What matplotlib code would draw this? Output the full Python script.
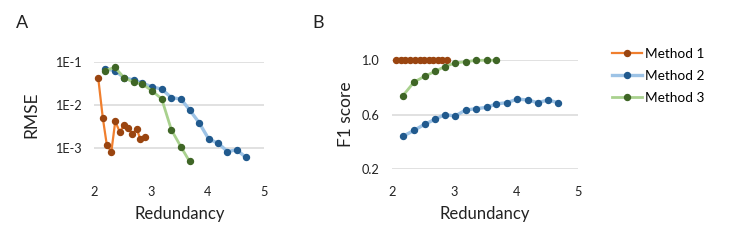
import matplotlib
matplotlib.use("Agg")
import matplotlib.pyplot as plt
from matplotlib.lines import Line2D

plt.rcParams['font.family'] = ['Lato', 'DejaVu Sans']

# ---- data ----
red_m1 = [2.07, 2.15, 2.22, 2.30, 2.37, 2.45, 2.52, 2.60, 2.67, 2.75, 2.81, 2.89]
red_m2 = [2.18, 2.36, 2.53, 2.70, 2.85, 3.02, 3.19, 3.36, 3.53, 3.68,
          3.85, 4.02, 4.19, 4.35, 4.51, 4.68]
red_m3 = [2.18, 2.36, 2.53, 2.70, 2.85, 3.02, 3.19, 3.36, 3.53, 3.68]

rmse_m1 = [0.041, 0.0049, 0.00118, 0.00079, 0.0041, 0.0023, 0.0033, 0.0029,
           0.0021, 0.0027, 0.0016, 0.0018]
rmse_m2 = [0.069, 0.062, 0.042, 0.0375, 0.0315, 0.026, 0.023, 0.0146, 0.0135,
           0.0076, 0.0038, 0.00158, 0.00126, 0.00081, 0.00089, 0.00059]
rmse_m3 = [0.061, 0.074, 0.042, 0.033, 0.030, 0.021, 0.0136, 0.0026, 0.00104,
           0.00048]

f1_m1 = [1.0] * 12
f1_m2 = [0.439, 0.483, 0.528, 0.565, 0.599, 0.589, 0.633, 0.643, 0.653, 0.678,
         0.687, 0.714, 0.707, 0.687, 0.707, 0.687]
f1_m3 = [0.739, 0.840, 0.882, 0.919, 0.953, 0.980, 0.990, 1.0, 1.0, 1.0]

labels = ["Method 1", "Method 2", "Method 3"]
line_colors = ['#F07F2E', '#9DC3E6', '#A9D18E']
marker_colors = ['#9A4510', '#215A8E', '#3F6626']
line_widths = [1.6, 2.4, 2.0]

xticks = [2, 3, 4, 5]
rmse_ticks = [1e-1, 1e-2, 1e-3]
rmse_ticklabels = ['1E-1', '1E-2', '1E-3']
f1_ticks = [0.2, 0.6, 1.0]
f1_ticklabels = ['0.2', '0.6', '1.0']

fig = plt.figure(figsize=(7.47, 2.42), dpi=100)
axA = fig.add_axes([94.3 / 747, 1 - 168.7 / 242, 170 / 747, (168.7 - 61.7) / 242])
axB = fig.add_axes([391.7 / 747, 1 - 168.7 / 242, 186.6 / 747, (168.7 - 60.3) / 242])

def style(ax):
    for s in ax.spines.values():
        s.set_visible(False)
    ax.tick_params(axis='both', length=0, labelsize=9.2, colors='#222222')
    ax.tick_params(axis='x', pad=12.5)
    ax.tick_params(axis='y', pad=9)
    ax.grid(axis='y', color='#D9D9D9', linewidth=1.1)
    ax.set_axisbelow(True)
    ax.set_xlim(2, 5)
    ax.set_xticks(xticks)
    ax.set_xlabel('Redundancy', fontsize=12, labelpad=6, color='#222222')

xs = [red_m1, red_m2, red_m3]
for ax, ys in ((axA, [rmse_m1, rmse_m2, rmse_m3]), (axB, [f1_m1, f1_m2, f1_m3])):
    for x, y, lc, mc, lw in zip(xs, ys, line_colors, marker_colors, line_widths):
        ax.plot(x, y, color=lc, linewidth=lw, marker='o', markersize=4.3,
                markerfacecolor=mc, markeredgecolor=mc, clip_on=False, zorder=3)

style(axA)
axA.set_yscale('log')
axA.set_ylim(10 ** -3.49, 0.1)
axA.set_yticks(rmse_ticks)
axA.set_yticklabels(rmse_ticklabels)
axA.minorticks_off()
axA.set_ylabel('RMSE', fontsize=12.5, color='#222222', labelpad=11)

style(axB)
axB.set_ylim(0.2, 1.0)
axB.set_yticks(f1_ticks)
axB.set_yticklabels(f1_ticklabels)
axB.set_ylabel('F1 score', fontsize=12.5, color='#222222', labelpad=5)

fig.text(21.7 / 747, 1 - 23.3 / 242, 'A', fontsize=13, ha='center', va='center', color='#222222')
fig.text(318 / 747, 1 - 23.3 / 242, 'B', fontsize=13, ha='center', va='center', color='#222222')

handles = [Line2D([0], [0], color=lc, linewidth=lw, marker='o', markersize=4.3,
                  markerfacecolor=mc, markeredgecolor=mc)
           for lc, mc, lw in zip(line_colors, marker_colors, line_widths)]
fig.legend(handles, labels, loc='upper left', bbox_to_anchor=(612 / 747, 1 - 48 / 242),
           frameon=False, fontsize=9.8, handlelength=2.2, handletextpad=0.2,
           labelspacing=0.72, borderaxespad=0, borderpad=0)

fig.savefig('out.png', dpi=100)
